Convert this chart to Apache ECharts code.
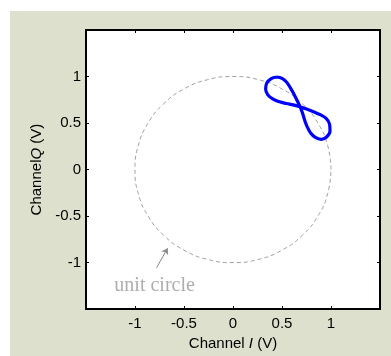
<!DOCTYPE html>
<html lang="en">
<head>
  <meta charset="UTF-8">
  <title>IQ figure eight</title>
  <script src="https://cdn.jsdelivr.net/npm/echarts@6/dist/echarts.min.js"></script>
</head>
<body style="margin:0;background:#fff;">
  <div style="position:absolute;left:10px;top:11px;width:381px;height:345px;background:#dde0cc;"></div>
  <div id="main" style="position:absolute;left:0;top:0;width:391px;height:356px;"></div>
  <script type="text/javascript">
    // unit circle, read every 15 degrees
    var circlePts = [
      [1, 0], [0.966, 0.259], [0.866, 0.5], [0.707, 0.707], [0.5, 0.866], [0.259, 0.966],
      [0, 1], [-0.259, 0.966], [-0.5, 0.866], [-0.707, 0.707], [-0.866, 0.5], [-0.966, 0.259],
      [-1, 0], [-0.966, -0.259], [-0.866, -0.5], [-0.707, -0.707], [-0.5, -0.866], [-0.259, -0.966],
      [0, -1], [0.259, -0.966], [0.5, -0.866], [0.707, -0.707], [0.866, -0.5], [0.966, -0.259], [1, 0]
    ];
    // figure eight trace (I, Q)
    var eightPts = [
      [0.445, 0.995], [0.50, 0.98], [0.55, 0.935], [0.59, 0.87], [0.625, 0.805], [0.655, 0.74],
      [0.685, 0.675], [0.71, 0.605], [0.73, 0.535], [0.755, 0.465], [0.79, 0.395], [0.84, 0.345],
      [0.90, 0.325], [0.955, 0.35], [0.99, 0.415], [0.985, 0.49], [0.95, 0.55], [0.89, 0.59],
      [0.82, 0.622], [0.75, 0.65], [0.685, 0.675], [0.615, 0.695], [0.545, 0.71], [0.475, 0.728],
      [0.41, 0.757], [0.355, 0.803], [0.333, 0.865], [0.345, 0.93], [0.39, 0.978], [0.445, 0.995]
    ];
    var arrowPts = [[-0.78, -1.056], [-0.667, -0.845]];
    var notePos = [-0.80, -1.25];
    var noteText = 'unit circle';
    var axisMin = -1.5, axisMax = 1.5, tickStep = 0.5;

    var myChart = echarts.init(document.getElementById('main'));

    function tickLabel(v) {
      return Math.abs(v) > 1.01 ? '' : String(v);
    }

    var frameLine = { show: true, onZero: false, lineStyle: { color: '#000', width: 2 } };
    var innerTick = { show: true, inside: true, length: 3, lineStyle: { color: '#000', width: 1 } };
    var labelStyle = { color: '#000', fontSize: 15, fontFamily: 'Liberation Sans' };

    var option = {
      animation: false,
      grid: { left: 86, right: 11, top: 30, bottom: 41, show: true, backgroundColor: '#fff', borderWidth: 0 },
      xAxis: [{
        type: 'value', min: axisMin, max: axisMax, interval: tickStep, position: 'bottom',
        axisLine: frameLine, axisTick: innerTick, splitLine: { show: false },
        axisLabel: Object.assign({ margin: 7, formatter: tickLabel }, labelStyle),
        name: 'Channel {i|I} (V)', nameLocation: 'middle', nameGap: 25,
        nameTextStyle: Object.assign({ rich: { i: Object.assign({ fontStyle: 'italic' }, labelStyle) } }, labelStyle)
      }, {
        type: 'value', min: axisMin, max: axisMax, interval: tickStep, position: 'top',
        axisLine: frameLine, axisTick: innerTick, splitLine: { show: false }, axisLabel: { show: false }
      }],
      yAxis: [{
        type: 'value', min: axisMin, max: axisMax, interval: tickStep, position: 'left',
        axisLine: frameLine, axisTick: innerTick, splitLine: { show: false },
        axisLabel: Object.assign({ margin: 5, formatter: tickLabel }, labelStyle),
        name: 'Channel{i|Q} (V)', nameLocation: 'middle', nameGap: 40,
        nameTextStyle: Object.assign({ rich: { i: Object.assign({ fontStyle: 'italic' }, labelStyle) } }, labelStyle)
      }, {
        type: 'value', min: axisMin, max: axisMax, interval: tickStep, position: 'right',
        axisLine: frameLine, axisTick: innerTick, splitLine: { show: false }, axisLabel: { show: false }
      }],
      series: [{
        type: 'line', data: circlePts, showSymbol: false, smooth: 0.5,
        lineStyle: { color: '#a0a0a0', width: 1, type: [4, 3] }
      }, {
        type: 'line', data: eightPts, showSymbol: false, smooth: 0.4,
        lineStyle: { color: '#0000ff', width: 3.2 }
      }, {
        type: 'lines', coordinateSystem: 'cartesian2d', symbol: ['none', 'arrow'], symbolSize: 6,
        lineStyle: { color: '#888', width: 1, opacity: 1 },
        data: [{ coords: arrowPts }]
      }, {
        type: 'scatter', data: [notePos], symbolSize: 0,
        label: {
          show: true, position: 'inside', formatter: noteText,
          color: '#999', fontSize: 20, fontFamily: 'Liberation Serif'
        }
      }]
    };

    myChart.setOption(option);
  </script>
</body>
</html>
